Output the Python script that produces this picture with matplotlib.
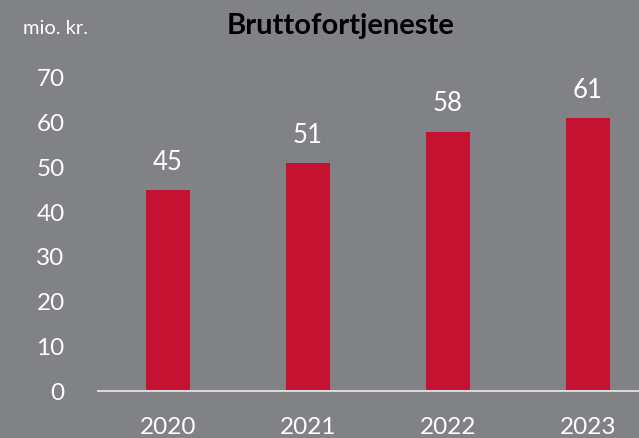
import matplotlib
matplotlib.use("Agg")
import matplotlib.pyplot as plt

years = ["2020", "2021", "2022", "2023"]
values = [45, 51, 58, 61]
yticks = [0, 10, 20, 30, 40, 50, 60, 70]

W, H = 639, 438
bg = "#808285"
bar_c = "#C41230"
plt.rcParams['font.family'] = ['Lato', 'DejaVu Sans']

fig = plt.figure(figsize=(W/100, H/100), dpi=100, facecolor=bg)
left, right, top, bottom = 98, 639, 78, 391
ax = fig.add_axes([left/W, (H-bottom)/H, (right-left)/W, (bottom-top)/H])
ax.set_facecolor(bg)
x = list(range(len(years)))
ax.bar(x, values, width=0.315, color=bar_c, zorder=2)
ax.set_xlim(-0.5, -0.5 + (right-left)/140)
ax.set_ylim(0, 70)
ax.set_yticks(yticks)
ax.set_yticklabels([str(t) for t in yticks])
ax.set_xticks(x)
ax.set_xticklabels(years)
for s in ["top", "right", "left"]:
    ax.spines[s].set_visible(False)
ax.spines["bottom"].set_color("#D9D9D9")
ax.spines["bottom"].set_linewidth(1.5)
ax.tick_params(axis="y", length=0, pad=24, labelsize=17.5, labelcolor="white")
ax.tick_params(axis="x", length=0, pad=19, labelsize=17.5, labelcolor="white")
for xi, v in zip(x, values):
    ax.annotate(str(v), (xi, v), xytext=(0, 11), textcoords="offset points",
                ha="center", va="bottom", fontsize=18.5, color="white")
fig.text(341/W, 1 - 26/H, "Bruttofortjeneste", ha="center", va="center",
         fontsize=21, fontweight="bold", color="black")
fig.text(23/W, 1 - 28/H, "mio. kr.", ha="left", va="center",
         fontsize=14.5, color="white")
fig.savefig("out.png", dpi=100, facecolor=bg)
